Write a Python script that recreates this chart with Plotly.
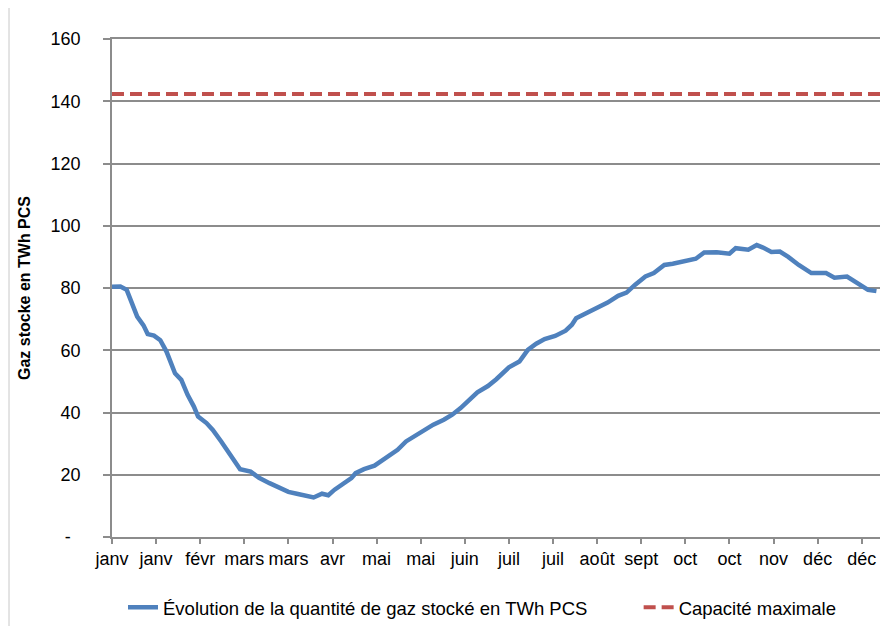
import plotly.graph_objects as go

# Day index within the year (0 = 1 janv) and stored gas (TWh PCS)
days = [0, 4, 7, 9, 12, 15, 17, 20, 23, 26, 28, 30, 33, 36, 39, 41, 45, 48, 52, 56,
        59, 61, 66, 70, 75, 80, 84, 88, 93, 96, 100, 103, 106, 110, 114, 116, 120, 125,
        127, 131, 136, 140, 145, 149, 153, 158, 162, 166, 170, 174, 179, 183, 189, 194,
        198, 202, 206, 211, 216, 219, 221, 227, 231, 236, 241, 245, 249, 254, 258, 263,
        267, 272, 278, 282, 288, 294, 297, 303, 307, 310, 314, 318, 322, 327, 333, 340,
        344, 350, 355, 360, 364]
stock = [80.4, 80.5, 79.4, 76.2, 70.8, 68.0, 65.2, 64.7, 63.2, 59.5, 56.0, 52.6, 50.5,
         45.7, 41.9, 38.7, 36.6, 34.4, 30.7, 27.0, 23.8, 21.8, 21.0, 19.0, 17.3, 15.6,
         14.5, 13.9, 13.1, 12.7, 13.9, 13.4, 15.2, 17.1, 18.9, 20.5, 21.8, 22.9, 23.8,
         25.9, 28.0, 30.7, 32.8, 34.2, 36.1, 37.7, 39.3, 41.4, 44.1, 46.5, 48.5, 50.7,
         54.5, 56.4, 60.1, 62.1, 63.6, 64.6, 66.3, 68.2, 70.3, 72.4, 73.5, 75.3, 77.5,
         78.5, 81.0, 83.7, 84.8, 87.4, 87.8, 88.5, 89.4, 91.4, 91.5, 91.0, 92.8, 92.3,
         93.8, 93.0, 91.6, 91.7, 90.0, 87.4, 84.8, 84.8, 83.3, 83.7, 81.5, 79.4, 79.0]

capacity = 142.3

tick_days = [0, 21, 42, 63, 84, 105, 126, 147, 168, 189, 210, 231, 252, 273, 294, 315, 336, 357]
tick_labels = ["janv", "janv", "févr", "mars", "mars", "avr", "mai", "mai", "juin", "juil",
               "juil", "août", "sept", "oct", "oct", "nov", "déc", "déc"]

y_ticks = [0, 20, 40, 60, 80, 100, 120, 140, 160]
y_labels = ["-\u2007", "20", "40", "60", "80", "100", "120", "140", "160"]

FONT = "Liberation Sans, Arial, sans-serif"
GRID = "#8c8c8c"
X_MAX = 365.7

fig = go.Figure()
fig.add_trace(go.Scatter(
    x=days, y=stock, mode="lines",
    name="Évolution de la quantité de gaz stocké en TWh PCS" + "\u00a0" * 9,
    line=dict(color="#4F81BD", width=4.5),
))
fig.add_trace(go.Scatter(
    x=[days[0], X_MAX], y=[capacity, capacity], mode="lines",
    name="Capacité maximale",
    line=dict(color="#C0504D", width=4, dash="12px,6px"),
))

# page body has an 8px margin: figure is drawn from (8, 8)
fig.update_layout(
    width=872, height=618,
    margin=dict(l=104, r=0, t=31, b=89, autoexpand=False),
    paper_bgcolor="white", plot_bgcolor="white",
    font=dict(family=FONT, size=18, color="#000000"),
    showlegend=True,
    legend=dict(orientation="h", x=11 / 768, xanchor="left", y=-0.104, yanchor="top",
                font=dict(family=FONT, size=18.5, color="#000000"),
                bgcolor="rgba(0,0,0,0)"),
    xaxis=dict(
        range=[0, X_MAX], tickmode="array", tickvals=tick_days, ticktext=tick_labels,
        showgrid=False, zeroline=False, showline=True, mirror=True,
        linecolor=GRID, linewidth=1.5,
        ticks="outside", ticklen=5, tickcolor=GRID, tickwidth=1.5,
        tickfont=dict(family=FONT, size=18, color="#000000"),
    ),
    yaxis=dict(
        range=[0, 160], tickmode="array", tickvals=y_ticks, ticktext=y_labels,
        showgrid=True, gridcolor=GRID, gridwidth=1.5, zeroline=False,
        showline=True, linecolor=GRID, linewidth=1.5,
        ticks="outside", ticklen=7, tickcolor=GRID, tickwidth=1.5,
        ticklabelstandoff=19,
        tickfont=dict(family=FONT, size=18, color="#000000"),
        title=dict(text="<b>Gaz stocke en TWh PCS</b>", standoff=16,
                   font=dict(family=FONT, size=16, color="#000000")),
    ),
    shapes=[dict(type="line", xref="paper", yref="paper",
                 x0=(1 - 104) / 768, x1=(1 - 104) / 768,
                 y0=(498 + 31) / 498, y1=-0.2,
                 line=dict(color="#c8c8c8", width=1))],
)

fig.write_html("out.html")
